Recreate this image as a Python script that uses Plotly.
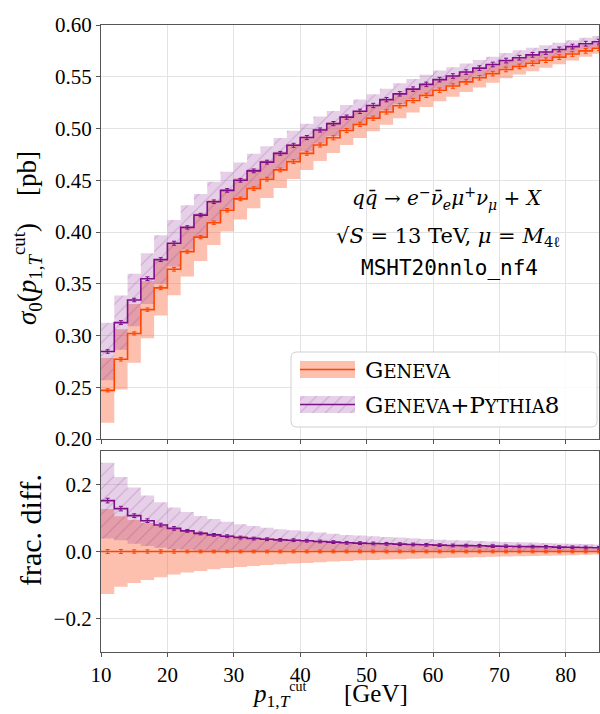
import numpy as np
import plotly.graph_objects as go

# ---------------- data ----------------
bin_edges = list(range(10, 88, 2))          # 2 GeV bins, 10 .. 86
geneva = [0.247, 0.277, 0.302, 0.325, 0.346, 0.364, 0.381, 0.395, 0.409, 0.421,
          0.432, 0.442, 0.451, 0.460, 0.468, 0.476, 0.484, 0.491, 0.498, 0.504,
          0.510, 0.516, 0.522, 0.527, 0.532, 0.537, 0.541, 0.545, 0.549, 0.553,
          0.557, 0.560, 0.563, 0.566, 0.569, 0.572, 0.575, 0.5775]
geneva_rel_unc = [0.127, 0.105, 0.094, 0.085, 0.077, 0.069, 0.063, 0.058, 0.053, 0.049,
                  0.046, 0.043, 0.040, 0.038, 0.036, 0.034, 0.032, 0.030, 0.028, 0.026,
                  0.025, 0.024, 0.023, 0.022, 0.021, 0.020, 0.019, 0.018, 0.017, 0.016,
                  0.015, 0.014, 0.0135, 0.013, 0.012, 0.011, 0.010, 0.009]
py8_frac_diff = [0.152, 0.128, 0.107, 0.092, 0.079, 0.069, 0.0615, 0.054, 0.0495, 0.0456,
                 0.0416, 0.0386, 0.0366, 0.0347, 0.0337, 0.032, 0.030, 0.028, 0.026, 0.025,
                 0.024, 0.023, 0.022, 0.021, 0.020, 0.019, 0.018, 0.0175, 0.017, 0.016,
                 0.0155, 0.015, 0.0145, 0.014, 0.013, 0.0125, 0.012, 0.011]
py8_rel_unc = [0.098, 0.084, 0.076, 0.069, 0.063, 0.058, 0.053, 0.049, 0.045, 0.041,
               0.038, 0.036, 0.033, 0.031, 0.029, 0.027, 0.026, 0.024, 0.023, 0.022,
               0.021, 0.020, 0.019, 0.018, 0.017, 0.016, 0.0155, 0.015, 0.014, 0.0135,
               0.013, 0.0125, 0.012, 0.0115, 0.011, 0.0105, 0.010, 0.0095]
stat_rel = [0.006, 0.006, 0.005, 0.005, 0.005, 0.005, 0.004, 0.004, 0.004, 0.004,
            0.004, 0.004, 0.004, 0.004, 0.004, 0.004, 0.004, 0.004, 0.004, 0.004,
            0.004, 0.004, 0.004, 0.004, 0.004, 0.004, 0.004, 0.004, 0.004, 0.004,
            0.004, 0.004, 0.004, 0.004, 0.004, 0.004, 0.004, 0.004]
x_ticks = [10, 20, 30, 40, 50, 60, 70, 80]
y_ticks_top = [0.20, 0.25, 0.30, 0.35, 0.40, 0.45, 0.50, 0.55, 0.60]
y_ticks_bot = [-0.2, 0.0, 0.2]

# ---------------- derived ----------------
edges = np.array(bin_edges, dtype=float)
centers = 0.5 * (edges[:-1] + edges[1:])
g = np.array(geneva)
g_rel = np.array(geneva_rel_unc)
p = g * (1 + np.array(py8_frac_diff))
p_rel = np.array(py8_rel_unc)
srel = np.array(stat_rel)

def stepy(v):
    v = np.asarray(v)
    return np.append(v, v[-1])

ORANGE = "#FF4500"
ORANGE_FILL = "rgba(250,110,70,0.44)"
PURPLE = "#7E0F8A"
PURPLE_FILL = "rgba(140,40,150,0.22)"
PURPLE_HATCH = "rgba(120,20,130,0.45)"
FONT = "Liberation Serif"
MATH = "DejaVu Serif"

fig = go.Figure()

def add_panel(xa, ya, g_c, g_lo, g_hi, p_c, p_lo, p_hi, g_err, p_err):
    fig.add_trace(go.Scatter(x=edges, y=stepy(g_lo), mode="lines", line=dict(width=0, shape="hv"),
                             xaxis=xa, yaxis=ya, showlegend=False, hoverinfo="skip"))
    fig.add_trace(go.Scatter(x=edges, y=stepy(g_hi), mode="lines", line=dict(width=0, shape="hv"),
                             fill="tonexty", fillcolor=ORANGE_FILL,
                             xaxis=xa, yaxis=ya, showlegend=False, hoverinfo="skip"))
    fig.add_trace(go.Scatter(x=edges, y=stepy(p_lo), mode="lines", line=dict(width=0, shape="hv"),
                             xaxis=xa, yaxis=ya, showlegend=False, hoverinfo="skip"))
    fig.add_trace(go.Scatter(x=edges, y=stepy(p_hi), mode="lines", line=dict(width=0, shape="hv"),
                             fill="tonexty", fillcolor=PURPLE_FILL,
                             fillpattern=dict(shape="/", fgcolor=PURPLE_HATCH, size=9, solidity=0.12,
                                              fillmode="overlay"),
                             xaxis=xa, yaxis=ya, showlegend=False, hoverinfo="skip"))
    fig.add_trace(go.Scatter(x=edges, y=stepy(g_c), mode="lines", line=dict(width=1.6, color=ORANGE, shape="hv"),
                             xaxis=xa, yaxis=ya, showlegend=False))
    fig.add_trace(go.Scatter(x=edges, y=stepy(p_c), mode="lines", line=dict(width=1.6, color=PURPLE, shape="hv"),
                             xaxis=xa, yaxis=ya, showlegend=False))
    fig.add_trace(go.Scatter(x=centers, y=g_c, mode="markers", marker=dict(size=0.1, color=ORANGE),
                             error_y=dict(type="data", array=g_err, color=ORANGE, thickness=1, width=2),
                             xaxis=xa, yaxis=ya, showlegend=False))
    fig.add_trace(go.Scatter(x=centers, y=p_c, mode="markers", marker=dict(size=0.1, color=PURPLE),
                             error_y=dict(type="data", array=p_err, color=PURPLE, thickness=1, width=2),
                             xaxis=xa, yaxis=ya, showlegend=False))

add_panel("x", "y", g, g * (1 - g_rel), g * (1 + g_rel), p, p * (1 - p_rel), p * (1 + p_rel),
          g * srel, p * srel)
add_panel("x2", "y2", g / g - 1, -g_rel, g_rel, p / g - 1,
          p * (1 - p_rel) / g - 1, p * (1 + p_rel) / g - 1, srel, srel * p / g)

# ---------------- legend (drawn manually on a pixel overlay axis) ----------------
def rounded_rect(x0, y0, x1, y1, r, n=8):
    xs, ys = [], []
    for cx, cy, a0 in [(x1 - r, y0 + r, -90), (x1 - r, y1 - r, 0), (x0 + r, y1 - r, 90), (x0 + r, y0 + r, 180)]:
        for a in np.linspace(a0, a0 + 90, n):
            xs.append(cx + r * np.cos(np.radians(a)))
            ys.append(cy + r * np.sin(np.radians(a)))
    xs.append(xs[0]); ys.append(ys[0])
    return xs, ys

LB = dict(x0=291, y0=352, x1=597, y1=427)
bx, by = rounded_rect(LB["x0"], LB["y0"], LB["x1"], LB["y1"], 5)
fig.add_trace(go.Scatter(x=bx, y=by, mode="lines", fill="toself", fillcolor="rgba(255,255,255,0.85)",
                         line=dict(color="#d0d0d0", width=1), xaxis="x3", yaxis="y3",
                         showlegend=False, hoverinfo="skip"))
px0, px1 = 300, 355
for (ytop, ybot), fillc, linec, hatch in [((361, 378), ORANGE_FILL, ORANGE, False),
                                          ((396, 413), PURPLE_FILL, PURPLE, True)]:
    kw = {}
    if hatch:
        kw["fillpattern"] = dict(shape="/", fgcolor=PURPLE_HATCH, size=9, solidity=0.12, fillmode="overlay")
    fig.add_trace(go.Scatter(x=[px0, px1, px1, px0, px0], y=[ytop, ytop, ybot, ybot, ytop], mode="lines",
                             fill="toself", fillcolor=fillc, line=dict(width=0), xaxis="x3", yaxis="y3",
                             showlegend=False, hoverinfo="skip", **kw))
    ym = 0.5 * (ytop + ybot)
    fig.add_trace(go.Scatter(x=[px0, px1], y=[ym, ym], mode="lines", line=dict(color=linec, width=1.6),
                             xaxis="x3", yaxis="y3", showlegend=False, hoverinfo="skip"))

sc = "font-size:18px"
leg_texts = [("G<span style='%s'>ENEVA</span>" % sc, 369.5),
             ("G<span style='%s'>ENEVA</span>+P<span style='%s'>YTHIA</span>8" % (sc, sc), 404.5)]

annotations = []
for t, yy in leg_texts:
    annotations.append(dict(x=363, y=yy, xref="x3", yref="y3", text=t, showarrow=False,
                            xanchor="left", yanchor="middle", font=dict(size=23, family=MATH, color="black")))

annotations += [
    dict(x=447, y=198, xref="x3", yref="y3", showarrow=False, xanchor="center", yanchor="middle",
         text="<i>q</i><i>q̄</i> → <i>e</i><sup>−</sup><i>ν̄</i><sub><i>e</i></sub><i>μ</i><sup>+</sup><i>ν</i><sub><i>μ</i></sub> + <i>X</i>",
         font=dict(size=20, family=MATH, color="black")),
    dict(x=448, y=237, xref="x3", yref="y3", showarrow=False, xanchor="center", yanchor="middle",
         text="√<i>S</i> = 13 TeV, <i>μ</i> = <i>M</i><sub>4ℓ</sub>",
         font=dict(size=21, family=MATH, color="black")),
    dict(x=449, y=268, xref="x3", yref="y3", showarrow=False, xanchor="center", yanchor="middle",
         text="MSHT20nnlo_nf4", font=dict(size=21, family="DejaVu Sans Mono", color="black")),
    dict(x=330, y=695, xref="x3", yref="y3", showarrow=False, xanchor="center", yanchor="middle",
         text="<i>p</i><sub>1,<i>T</i></sub><sup><span style='font-size:14px'>cut</span></sup>      [GeV]",
         font=dict(size=25, family=FONT, color="black")),
    dict(x=27, y=238, xref="x3", yref="y3", showarrow=False, xanchor="center", yanchor="middle", textangle=-90,
         text="<i>σ</i><sub>0</sub>(<i>p</i><sub>1,<i>T</i></sub><sup>cut</sup>)    [pb]",
         font=dict(size=27, family=FONT, color="black")),
    dict(x=30, y=530, xref="x3", yref="y3", showarrow=False, xanchor="center", yanchor="middle", textangle=-90,
         text="frac. diff.", font=dict(size=30, family=FONT, color="black")),
]

W, H = 600, 714
xdom = [101 / W, 599 / W]
top_dom = [(H - 439) / H, (H - 25) / H]
bot_dom = [(H - 652) / H, (H - 451) / H]

axis_common = dict(showline=True, mirror=True, linecolor="#555555", linewidth=1.2,
                   showgrid=True, gridcolor="#e3e3e3", gridwidth=1, zeroline=False,
                   ticks="outside", ticklen=4, tickwidth=1, tickcolor="#555555", automargin=False,
                   tickfont=dict(size=21, family=FONT, color="black"))

fig.update_layout(
    width=W, height=H, margin=dict(l=0, r=0, t=0, b=0, pad=0, autoexpand=False),
    paper_bgcolor="white", plot_bgcolor="rgba(0,0,0,0)",
    font=dict(family=FONT, color="black"),
    showlegend=False,
    xaxis=dict(domain=xdom, range=[10, 85], anchor="y", tickvals=x_ticks, showticklabels=False, **axis_common),
    yaxis=dict(domain=top_dom, range=[0.2, 0.6], anchor="x", tickvals=y_ticks_top, tickformat=".2f", **axis_common),
    xaxis2=dict(domain=xdom, range=[10, 85], anchor="y2", tickvals=x_ticks, **axis_common),
    yaxis2=dict(domain=bot_dom, range=[-0.3, 0.3], anchor="x2", tickvals=y_ticks_bot, tickformat=".1f", **axis_common),
    xaxis3=dict(domain=[0, 1], range=[0, W], anchor="y3", visible=False, fixedrange=True),
    yaxis3=dict(domain=[0, 1], range=[H, 0], anchor="x3", visible=False, fixedrange=True),
    annotations=annotations,
)

fig.write_html("out.html")
